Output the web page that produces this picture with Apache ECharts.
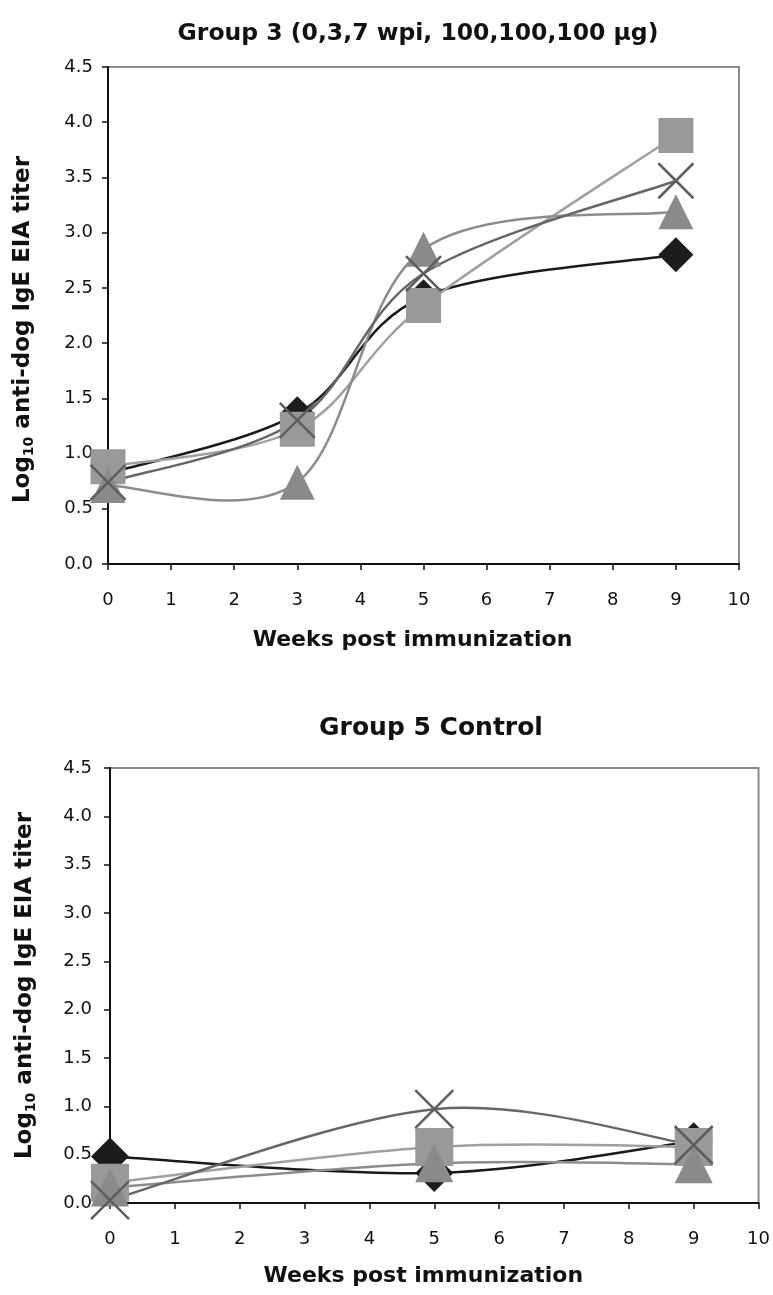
<!DOCTYPE html>
<html>
<head>
<meta charset="utf-8">
<script src="https://cdn.jsdelivr.net/npm/echarts@6/dist/echarts.min.js"></script>
<style>
  html, body { margin: 0; padding: 0; background: #fff; }
  #main { width: 773px; height: 1295px; }
</style>
</head>
<body>
<div id="main"></div>
<script>
// weeks post immunization
var weeksG3 = [0, 3, 5, 9];
var weeksG5 = [0, 5, 9];

// Group 3 dogs
var g3Diamond = [0.82, 1.36, 2.42, 2.80];
var g3Square = [0.88, 1.22, 2.34, 3.88];
var g3Triangle = [0.71, 0.74, 2.85, 3.19];
var g3Cross = [0.74, 1.30, 2.63, 3.47];

// Group 5 control dogs
var g5Diamond = [0.48, 0.31, 0.64];
var g5Square = [0.21, 0.58, 0.58];
var g5Triangle = [0.16, 0.41, 0.40];
var g5Cross = [0.03, 0.97, 0.60];

var titles = ['Group 3 (0,3,7 wpi, 100,100,100 µg)', 'Group 5 Control'];
var xName = 'Weeks post immunization';
var yName = '{a|Log}{s|10}{a| anti-dog IgE EIA titer}';

var FONT = '"DejaVu Sans", Verdana, sans-serif';
var crossPath = 'path://M0,0L20,20M20,0L0,20';

function pairs(xs, ys) {
  return xs.map(function (x, i) { return [x, ys[i]]; });
}

function xAxisCfg(idx) {
  return {
    type: 'value', gridIndex: idx, min: 0, max: 10, interval: 1,
    name: xName, nameLocation: 'middle', nameGap: idx === 0 ? 65 : 62,
    nameTextStyle: { fontFamily: FONT, fontWeight: 'bold', fontSize: 22, color: '#111', padding: [0, 22, 0, 0] },
    axisLine: { show: true, lineStyle: { color: '#111', width: 2 } },
    axisTick: { show: true, length: 6, lineStyle: { color: '#111', width: 1.5 } },
    axisLabel: { fontFamily: FONT, fontSize: 18, color: '#111', margin: 27 },
    splitLine: { show: false }
  };
}

function yAxisCfg(idx) {
  return {
    type: 'value', gridIndex: idx, min: 0, max: 4.5, interval: 0.5,
    name: yName, nameLocation: 'middle', nameGap: 72, nameRotate: 90,
    nameTextStyle: {
      padding: idx === 0 ? [0, 28, 0, 0] : [0, 0, 0, 0],
      rich: {
        a: { fontFamily: FONT, fontWeight: 'bold', fontSize: 23, color: '#111', lineHeight: 26 },
        s: { fontFamily: FONT, fontWeight: 'bold', fontSize: 14, color: '#111', verticalAlign: 'bottom', lineHeight: 26 }
      }
    },
    axisLine: { show: true, lineStyle: { color: '#111', width: 2 } },
    axisTick: { show: true, length: 6, lineStyle: { color: '#111', width: 1.5 } },
    axisLabel: { fontFamily: FONT, fontSize: 18, color: '#111', margin: idx === 0 ? 15 : 18,
      formatter: function (v) { return v.toFixed(1); } },
    splitLine: { show: false }
  };
}

// Excel-style smoothed line: cubic segments, control arms = (next - prev) / 6
function curve(idx, xs, ys, color) {
  var n = xs.length;
  return {
    type: 'custom', xAxisIndex: idx, yAxisIndex: idx, silent: true, animation: false,
    encode: { x: 0, y: 1 },
    data: pairs(xs, ys),
    renderItem: function (params, api) {
      var i = params.dataIndex;
      if (i >= n - 1) return null;
      var pt = function (k) {
        k = Math.max(0, Math.min(n - 1, k));
        return api.coord([xs[k], ys[k]]);
      };
      var a = pt(i - 1), b = pt(i), c = pt(i + 1), d = pt(i + 2);
      return {
        type: 'bezierCurve',
        shape: {
          x1: b[0], y1: b[1], x2: c[0], y2: c[1],
          cpx1: b[0] + (c[0] - a[0]) / 6, cpy1: b[1] + (c[1] - a[1]) / 6,
          cpx2: c[0] - (d[0] - b[0]) / 6, cpy2: c[1] - (d[1] - b[1]) / 6
        },
        style: { stroke: color, lineWidth: 2.5, fill: 'none' }
      };
    }
  };
}

function markers(idx, xs, ys, symbol, size, itemStyle) {
  return {
    type: 'scatter', xAxisIndex: idx, yAxisIndex: idx, silent: true, animation: false,
    data: pairs(xs, ys), symbol: symbol, symbolSize: size, itemStyle: itemStyle
  };
}

function seriesSet(idx, xs, dia, sq, tri, cr, size) {
  return [
    curve(idx, xs, dia, '#1a1a1a'),
    markers(idx, xs, dia, 'diamond', size, { color: '#1c1c1c', opacity: 1 }),
    curve(idx, xs, sq, '#a0a0a0'),
    markers(idx, xs, sq, 'rect', size, { color: '#999999', opacity: 1 }),
    curve(idx, xs, tri, '#8c8c8c'),
    markers(idx, xs, tri, 'triangle', size, { color: '#8a8a8a', opacity: 1 }),
    curve(idx, xs, cr, '#666666'),
    markers(idx, xs, cr, crossPath, size, { color: 'none', borderColor: '#5e5e5e', borderWidth: 2.5, opacity: 1 })
  ];
}

var chart = echarts.init(document.getElementById('main'), null, { renderer: 'canvas' });

var option = {
  backgroundColor: '#fff',
  animation: false,
  title: [
    { text: titles[0], left: 413, top: 17, textAlign: 'center',
      textStyle: { fontFamily: FONT, fontWeight: 'bold', fontSize: 23.5, color: '#111' } },
    { text: titles[1], left: 426, top: 711, textAlign: 'center',
      textStyle: { fontFamily: FONT, fontWeight: 'bold', fontSize: 25, color: '#111' } }
  ],
  grid: [
    { left: 108, top: 67, width: 631, height: 497, show: true, borderColor: '#8a8a8a', borderWidth: 2 },
    { left: 110, top: 768, width: 649, height: 435, show: true, borderColor: '#8a8a8a', borderWidth: 2 }
  ],
  xAxis: [xAxisCfg(0), xAxisCfg(1)],
  yAxis: [yAxisCfg(0), yAxisCfg(1)],
  series: seriesSet(0, weeksG3, g3Diamond, g3Square, g3Triangle, g3Cross, 35)
    .concat(seriesSet(1, weeksG5, g5Diamond, g5Square, g5Triangle, g5Cross, 38))
};

chart.setOption(option);
</script>
</body>
</html>
